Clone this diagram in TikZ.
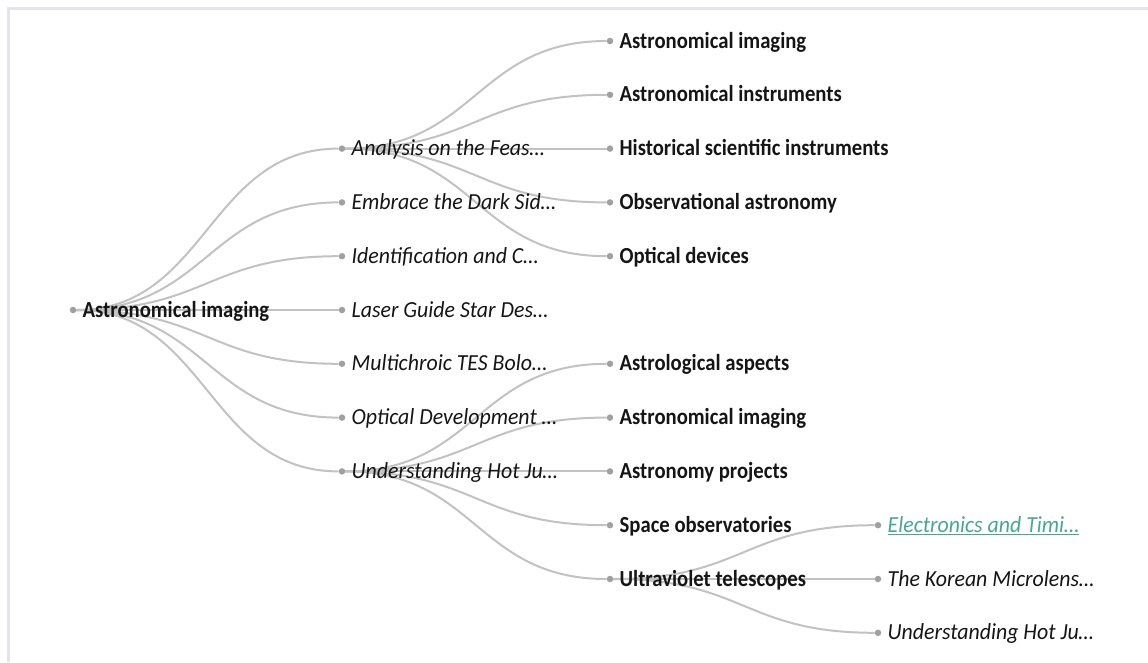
\documentclass[tikz,border=0pt]{standalone}
\usepackage{fontspec}
\setmainfont{Carlito}[BoldFeatures={FakeStretch=0.9}, ItalicFeatures={FakeStretch=0.95}]
\usetikzlibrary{positioning}
\definecolor{ink}{HTML}{151515}
\definecolor{wire}{HTML}{C2C2C2}
\definecolor{knob}{HTML}{A0A0A0}
\definecolor{frameline}{HTML}{E4E4EA}
\definecolor{visited}{HTML}{45A892}
\newcommand\labelsize{\fontsize{23}{26}\selectfont}

\begin{document}
\begin{tikzpicture}[
  x=1pt, y=-1pt, color=ink,
  dot/.style={circle, fill=knob, inner sep=0pt, minimum size=6.5pt},
  topic/.style={inner sep=0pt, text height=14pt, text depth=0pt, font=\labelsize\bfseries},
  paper/.style={inner sep=0pt, text height=14pt, text depth=0pt, font=\labelsize\itshape},
  link/.style={draw=wire, line width=2pt,
               to path={.. controls +(134,0) and +(-134,0) .. (\tikztotarget)}},
]
\useasboundingbox (0,0) rectangle (1148,662);
\draw[frameline, line width=3pt] (8,662) |- (1148,8);

% ---- dots, one per tree node ----
\node[dot] (root) at (73,310) {};
\node[dot] (a1) at (342,148.6) {};
\node[dot] (a2) at (342,202.4) {};
\node[dot] (a3) at (342,256.2) {};
\node[dot] (a4) at (342,310) {};
\node[dot] (a5) at (342,363.8) {};
\node[dot] (a6) at (342,417.6) {};
\node[dot] (a7) at (342,471.4) {};
\node[dot] (b1) at (610,41) {};
\node[dot] (b2) at (610,94.8) {};
\node[dot] (b3) at (610,148.6) {};
\node[dot] (b4) at (610,202.4) {};
\node[dot] (b5) at (610,256.2) {};
\node[dot] (b6) at (610,363.8) {};
\node[dot] (b7) at (610,417.6) {};
\node[dot] (b8) at (610,471.4) {};
\node[dot] (b9) at (610,525.2) {};
\node[dot] (b10) at (610,579) {};
\node[dot] (c1) at (878,525.2) {};
\node[dot] (c2) at (878,579) {};
\node[dot] (c3) at (878,632.8) {};

% ---- links (horizontal s-curves, parent dot -> child dot) ----
\draw[link] (root) to (a1);
\draw[link] (root) to (a2);
\draw[link] (root) to (a3);
\draw[link] (root) to (a4);
\draw[link] (root) to (a5);
\draw[link] (root) to (a6);
\draw[link] (root) to (a7);
% first paper: its five topics
\draw[link] (a1) to (b1);
\draw[link] (a1) to (b2);
\draw[link] (a1) to (b3);
\draw[link] (a1) to (b4);
\draw[link] (a1) to (b5);
% last paper: its five topics
\draw[link] (a7) to (b6);
\draw[link] (a7) to (b7);
\draw[link] (a7) to (b8);
\draw[link] (a7) to (b9);
\draw[link] (a7) to (b10);
% ultraviolet telescopes: three papers
\draw[link] (b10) to (c1);
\draw[link] (b10) to (c2);
\draw[link] (b10) to (c3);

% ---- labels ----
\node[topic, right=6pt of root] (rootl) {Astronomical imaging};
\node[paper, right=6pt of a1] (a1l) {Analysis on the Feas…};
\node[paper, right=6pt of a2] (a2l) {Embrace the Dark Sid…};
\node[paper, right=6pt of a3] (a3l) {Identification and C…};
\node[paper, right=6pt of a4] (a4l) {Laser Guide Star Des…};
\node[paper, right=6pt of a5] (a5l) {Multichroic TES Bolo…};
\node[paper, right=6pt of a6] (a6l) {Optical Development …};
\node[paper, right=6pt of a7] (a7l) {Understanding Hot Ju…};
\node[topic, right=6pt of b1] (b1l) {Astronomical imaging};
\node[topic, right=6pt of b2] (b2l) {Astronomical instruments};
\node[topic, right=6pt of b3] (b3l) {Historical scientific instruments};
\node[topic, right=6pt of b4] (b4l) {Observational astronomy};
\node[topic, right=6pt of b5] (b5l) {Optical devices};
\node[topic, right=6pt of b6] (b6l) {Astrological aspects};
\node[topic, right=6pt of b7] (b7l) {Astronomical imaging};
\node[topic, right=6pt of b8] (b8l) {Astronomy projects};
\node[topic, right=6pt of b9] (b9l) {Space observatories};
\node[topic, right=6pt of b10] (b10l) {Ultraviolet telescopes};
\node[paper, right=6pt of c1, text=visited] (c1l) {\underline{Electronics and Timi…}};
\node[paper, right=6pt of c2] (c2l) {The Korean Microlens…};
\node[paper, right=6pt of c3] (c3l) {Understanding Hot Ju…};
\end{tikzpicture}
\end{document}
